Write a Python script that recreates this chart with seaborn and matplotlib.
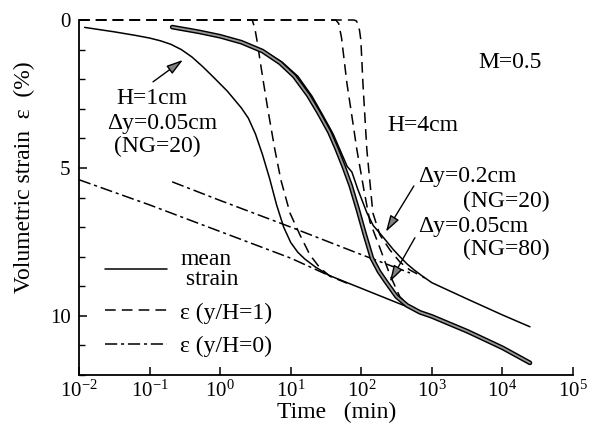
import numpy as np
import pandas as pd
import matplotlib
matplotlib.use("Agg")
import matplotlib.pyplot as plt
import seaborn as sns
from matplotlib.lines import Line2D
from matplotlib.ticker import FixedLocator, LogFormatterMathtext, NullLocator, MultipleLocator

# ---------------- data: log10(time/min) and volumetric strain (%) ----------------
# H = 1 cm, dy = 0.05 cm (NG=20)
h1_mean_lt = [-1.92, -1.5, -1.2, -1.0, -0.85, -0.7, -0.55, -0.4, -0.25, -0.1, 0.1, 0.3, 0.4,
              0.5, 0.6, 0.7, 0.8, 0.9, 1.0, 1.1, 1.2, 1.35, 1.55, 2.0, 2.5, 3.0, 3.5, 4.0, 4.39]
h1_mean_e = [0.25, 0.4, 0.52, 0.61, 0.7, 0.82, 1.0, 1.25, 1.57, 1.92, 2.4, 2.97, 3.32,
             3.85, 4.55, 5.35, 6.25, 7.0, 7.52, 7.85, 8.08, 8.35, 8.64, 9.07, 9.55, 10.02,
             10.52, 11.08, 11.59]
h1_bot_lt = [-2.0, 0.455, 0.493, 0.53, 0.564, 0.62, 0.677, 0.776, 0.861, 0.989, 1.13, 1.272, 1.414, 1.555, 1.8]
h1_bot_e = [0, 0, 0.3, 0.8, 1.35, 2.2, 3.04, 4.39, 5.41, 6.52, 7.26, 7.94, 8.38, 8.66, 8.9]
h1_top_lt = [-2.0, -1.0, 0.0, 1.0, 1.6]
h1_top_e = [5.4, 6.25, 7.15, 8.05, 8.7]

# H = 4 cm, dy = 0.05 cm (NG=80)
h4f_mean_lt = [-0.68, -0.3, 0.0, 0.3, 0.6, 0.85, 1.05, 1.25, 1.4, 1.55, 1.65, 1.75, 1.85, 1.95,
               2.05, 2.15, 2.25, 2.35, 2.5, 2.65, 2.83, 3.0, 3.5, 4.0, 4.39]
h4f_mean_e = [0.24, 0.4, 0.55, 0.75, 1.05, 1.45, 1.9, 2.55, 3.15, 3.8, 4.35, 4.95, 5.6, 6.4,
              7.25, 8.05, 8.5, 8.85, 9.35, 9.65, 9.88, 10.02, 10.52, 11.08, 11.59]
h4f_bot_lt = [-2.0, 1.64, 1.68, 1.72, 1.796, 1.87, 1.938, 2.037, 2.122, 2.263, 2.405, 2.547, 2.717, 3.0]
h4f_bot_e = [0, 0, 0.12, 0.6, 2.13, 3.3, 4.39, 5.74, 6.82, 7.7, 8.61, 9.36, 9.76, 10.02]

# H = 4 cm, dy = 0.2 cm (NG=20)
h4c_mean_lt = [-0.64, -0.3, 0.0, 0.3, 0.6, 0.875, 1.1, 1.3, 1.45, 1.6, 1.7, 1.8, 1.867, 1.95,
               2.02, 2.08, 2.17, 2.306, 2.45, 2.547, 2.65, 2.75, 2.85, 3.0, 3.5, 4.0, 4.39]
h4c_mean_e = [0.24, 0.38, 0.52, 0.72, 1.02, 1.42, 1.9, 2.57, 3.2, 3.85, 4.4, 4.95, 5.14, 5.72,
              6.15, 6.52, 6.95, 7.33, 7.75, 8.0, 8.25, 8.45, 8.63, 8.88, 9.43, 9.97, 10.37]
h4c_bot_lt = [-2.0, 1.895, 1.93, 1.952, 1.975, 1.994, 2.023, 2.079, 2.164, 2.263, 2.405, 2.547, 2.688, 2.9]
h4c_bot_e = [0, 0, 0.03, 0.13, 0.35, 0.68, 2.13, 4.39, 6.52, 7.26, 7.77, 8.18, 8.45, 8.72]

# H = 4 cm, surface (y/H = 0)
h4_top_lt = [-0.68, 0.0, 1.0, 2.0, 2.69]
h4_top_e = [5.47, 6.1, 7.0, 7.93, 8.55]

x_ticks = [1e-2, 1e-1, 1e0, 1e1, 1e2, 1e3, 1e4, 1e5]
y_ticks = [0, 5, 10]
legend_labels = ["mean\n strain", "ε (y/H=1)", "ε (y/H=0)"]

# ---------------- style ----------------
sns.set_style("white", rc={"axes.edgecolor": "black", "text.color": "black",
                           "axes.labelcolor": "black", "xtick.color": "black",
                           "ytick.color": "black"})
plt.rcParams["font.family"] = ["Liberation Serif", "DejaVu Serif"]
plt.rcParams["mathtext.fontset"] = "custom"
plt.rcParams["mathtext.rm"] = "Liberation Serif"
plt.rcParams["mathtext.it"] = "Liberation Serif:italic"
plt.rcParams["mathtext.bf"] = "Liberation Serif:bold"

FS = 17
DASH = (0, (7, 4))
DASHDOT = (0, (8, 2.5, 2, 2.5))

fig = plt.figure(figsize=(5.94, 4.33), dpi=100)
ax = fig.add_axes([79 / 594, 58 / 433, 494 / 594, 355 / 433])
ax.set_xscale("log")


def draw(lt, e, **kw):
    df = pd.DataFrame({"t": 10.0 ** np.asarray(lt), "e": e})
    kw.setdefault("color", "k")
    sns.lineplot(data=df, x="t", y="e", ax=ax, estimator=None, sort=False,
                 clip_on=False, **kw)


# H=1cm
draw(h1_top_lt, h1_top_e, lw=1.1, linestyle=DASHDOT)
draw(h1_bot_lt, h1_bot_e, lw=1.1, linestyle=DASH)
draw(h1_mean_lt, h1_mean_e, lw=1.1)
# H=4cm
draw(h4_top_lt, h4_top_e, lw=1.1, linestyle=DASHDOT)
draw(h4f_bot_lt, h4f_bot_e, lw=1.1, linestyle=DASH)
draw(h4c_bot_lt, h4c_bot_e, lw=1.1, linestyle=DASH)
draw(h4c_mean_lt, h4c_mean_e, lw=1.1)
draw(h4f_mean_lt, h4f_mean_e, lw=3.4)
draw(h4f_mean_lt, h4f_mean_e, lw=1.3, color="0.6")

# ---------------- axes ----------------
ax.set_xlim(1e-2, 1e5)
ax.set_ylim(12, 0)
ax.xaxis.set_major_locator(FixedLocator(x_ticks))
ax.xaxis.set_minor_locator(NullLocator())
ax.xaxis.set_major_formatter(LogFormatterMathtext())
ax.yaxis.set_major_locator(FixedLocator(y_ticks))
ax.yaxis.set_minor_locator(MultipleLocator(1))
ax.tick_params(axis="both", which="both", direction="in", top=False, right=False,
               bottom=True, left=True)
ax.tick_params(axis="both", which="major", length=6, width=1.1, labelsize=15)
ax.tick_params(axis="x", which="major", pad=4)
ax.tick_params(axis="y", which="major", pad=6)
ax.tick_params(axis="y", which="minor", length=4, width=1.0)
for s in ["top", "right"]:
    ax.spines[s].set_visible(False)
for s in ["left", "bottom"]:
    ax.spines[s].set_linewidth(1.3)

ax.set_xlabel("Time   (min)", fontsize=FS)
ax.xaxis.set_label_coords(0.522, -0.077)
ax.set_ylabel("Volumetric strain  ε  (%)", fontsize=FS)
ax.yaxis.set_label_coords(-0.088, 0.558)

# ---------------- annotations ----------------
ax.text(0.108, 2.64, "H=1cm", ha="center", va="center", fontsize=FS)
ax.text(0.15, 3.51, "Δy=0.05cm", ha="center", va="center", fontsize=FS)
ax.text(0.127, 4.29, "(NG=20)", ha="center", va="center", fontsize=FS)
ax.text(1.27e4, 1.42, "M=0.5", ha="center", va="center", fontsize=FS)
ax.text(747, 3.55, "H=4cm", ha="center", va="center", fontsize=FS)
ax.text(631, 5.30, "Δy=0.2cm", ha="left", va="center", fontsize=FS)
ax.text(2750, 6.15, "(NG=20)", ha="left", va="center", fontsize=FS)
ax.text(631, 6.99, "Δy=0.05cm", ha="left", va="center", fontsize=FS)
ax.text(2750, 7.77, "(NG=80)", ha="left", va="center", fontsize=FS)

aprops = dict(arrowstyle="-|>,head_length=1.0,head_width=0.3", color="k", lw=1.0,
              fc="0.5", shrinkA=0, shrinkB=0, mutation_scale=10)
ax.annotate("", xy=(0.297, 1.35), xytext=(0.112, 2.09), arrowprops=aprops)
ax.annotate("", xy=(223, 7.16), xytext=(556, 5.61), arrowprops=aprops)
ax.annotate("", xy=(254, 8.85), xytext=(575, 7.36), arrowprops=aprops)

# ---------------- legend ----------------
handles = [Line2D([], [], color="k", lw=1.1),
           Line2D([], [], color="k", lw=1.1, linestyle=DASH),
           Line2D([], [], color="k", lw=1.1, linestyle=DASHDOT)]
leg = ax.legend(handles, legend_labels, loc="upper left", bbox_to_anchor=(0.053, 0.355),
                frameon=False, fontsize=FS, handlelength=2.63, handletextpad=0.55,
                borderpad=0, borderaxespad=0, labelspacing=0.5)
leg.get_texts()[0].set_linespacing(0.95)

fig.savefig("out.png", dpi=100)
